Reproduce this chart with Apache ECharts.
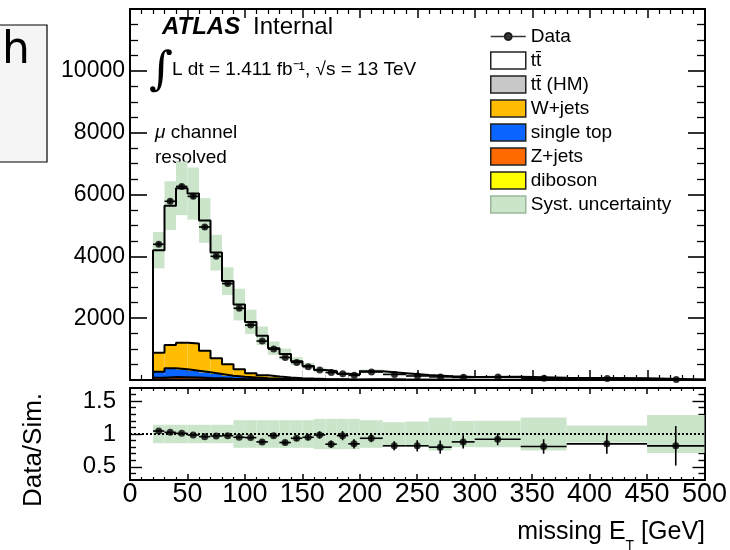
<!DOCTYPE html>
<html>
<head>
<meta charset="utf-8">
<script src="https://cdn.jsdelivr.net/npm/echarts@6/dist/echarts.min.js"></script>
<style>
  html, body { margin: 0; padding: 0; background: #fff; }
  #chart { width: 730px; height: 550px; }
</style>
</head>
<body>
<div id="chart"></div>
<script>
// Missing transverse energy, mu channel, resolved selection.
// Bin edges in GeV (10 GeV bins up to 200, wider bins in the tail).
const binEdges = [20, 30, 40, 50, 60, 70, 80, 90, 100, 110, 120, 130, 140, 150, 160, 170, 180, 190, 200,
                  220, 240, 260, 280, 300, 340, 380, 450, 500];

// Observed events per bin and their statistical errors
const dataCounts = [4390, 5780, 6260, 5940, 4950, 4000, 3120, 2320, 1775, 1260, 1000, 730, 570, 430, 320, 240, 200, 150,
                    260, 180, 130, 100, 85, 100, 60, 45, 15];
const dataErrors = [66, 76, 79, 77, 70, 63, 56, 48, 42, 35, 32, 27, 24, 21, 18, 15, 14, 12,
                    16, 13, 11, 10, 9, 10, 8, 7, 4];

// Simulated backgrounds per bin
const ttbar     = [3320, 4510, 4995, 4850, 4214, 3420, 2694, 2095, 1665, 1280, 920, 760, 550, 410, 290, 257, 183, 157,
                   255, 204, 148, 116, 90, 101, 69, 49, 16];
const ttbarHM   = [0, 0, 0, 0, 0, 0, 0, 0, 0, 0, 0, 0, 0, 0, 0, 0, 0, 0, 0, 0, 0, 0, 0, 0, 0, 0, 0];
const wjets     = [612, 753, 860, 880, 698, 506, 366, 238, 135, 90, 65, 45, 33, 25, 20, 16, 12, 10,
                   13, 8, 6, 5, 4, 4, 3, 2, 1];
const singleTop = [193, 282, 255, 220, 182, 140, 98, 75, 56, 41, 30, 23, 18, 13, 9, 7, 6, 5,
                   7, 5, 4, 2, 2, 2, 1, 1, 1];
const zjets     = [60, 75, 70, 62, 50, 40, 30, 22, 16, 12, 9, 7, 5, 4, 3, 3, 2, 1,
                   2, 1, 1, 1, 0, 1, 0, 1, 0];
const diboson   = [15, 20, 20, 18, 16, 14, 12, 10, 8, 7, 6, 5, 4, 3, 3, 2, 2, 2,
                   3, 2, 1, 1, 1, 1, 1, 0, 0];

// Relative systematic uncertainty on the total simulation
const systRel = [0.14, 0.14, 0.14, 0.14, 0.14, 0.14, 0.14, 0.21, 0.21, 0.21, 0.21, 0.21, 0.21, 0.21, 0.23, 0.23, 0.23, 0.23,
                 0.21, 0.18, 0.19, 0.25, 0.20, 0.20, 0.25, 0.13, 0.29];

// Data / simulation ratio and its errors
const ratioValues = [1.045, 1.025, 1.01, 0.985, 0.96, 0.97, 0.975, 0.95, 0.945, 0.88, 0.975, 0.87, 0.935, 0.95, 0.985, 0.845, 0.975, 0.85,
                     0.935, 0.82, 0.82, 0.80, 0.88, 0.92, 0.81, 0.85, 0.82];
const ratioErrors = [0.016, 0.014, 0.013, 0.013, 0.014, 0.015, 0.017, 0.02, 0.022, 0.025, 0.031, 0.032, 0.038, 0.045, 0.055, 0.055, 0.07, 0.07,
                     0.06, 0.07, 0.085, 0.1, 0.1, 0.09, 0.11, 0.15, 0.3];

// Tick values
const ratioMajorTicks = [0.5, 1, 1.5];
const ratioMinorTicks = [0.4, 0.6, 0.7, 0.8, 0.9, 1.1, 1.2, 1.3, 1.4, 1.6];

const FONT = '"Liberation Sans", Arial, Helvetica, sans-serif';
const nBins = binEdges.length - 1;
const centers = binEdges.slice(0, -1).map((e, i) => (e + binEdges[i + 1]) / 2);

function binRect(params, api) {
  const a = api.coord([api.value(0), api.value(3)]);
  const b = api.coord([api.value(1), api.value(2)]);
  return {
    type: 'rect',
    shape: { x: a[0], y: a[1], width: b[0] - a[0], height: b[1] - a[1] },
    style: { fill: api.visual('color') }
  };
}

function errorBars(params, api) {
  const x0 = api.value(0), x1 = api.value(1), y = api.value(2), e = api.value(3);
  const xc = (x0 + x1) / 2;
  const a = api.coord([x0, y]), b = api.coord([x1, y]);
  const c = api.coord([xc, y - e]), d = api.coord([xc, y + e]);
  const st = { stroke: '#000', lineWidth: 1.6 };
  return {
    type: 'group',
    children: [
      { type: 'line', shape: { x1: a[0], y1: a[1], x2: b[0], y2: b[1] }, style: st },
      { type: 'line', shape: { x1: c[0], y1: c[1], x2: d[0], y2: d[1] }, style: st }
    ]
  };
}

function stepPoints(vals) {
  const pts = [[binEdges[0], 0]];
  vals.forEach((v, i) => { pts.push([binEdges[i], v]); pts.push([binEdges[i + 1], v]); });
  return pts;
}

// Stacked backgrounds, bottom to top
const layers = [
  { name: 'diboson',    values: diboson,   color: '#ffff00' },
  { name: 'Z+jets',     values: zjets,     color: '#ff6a00' },
  { name: 'single top', values: singleTop, color: '#0a64ff' },
  { name: 'W+jets',     values: wjets,     color: '#ffbc00' },
  { name: 'tt\u0304 (HM)', values: ttbarHM, color: '#c8c8c8' },
  { name: 'tt\u0304',   values: ttbar,     color: '#ffffff' }
];

const series = [];
let running = new Array(nBins).fill(0);
const outlines = [];
layers.forEach((layer) => {
  const lower = running.slice();
  const upper = running.map((v, i) => v + layer.values[i]);
  running = upper;
  series.push({
    type: 'custom', name: layer.name, xAxisIndex: 0, yAxisIndex: 0, z: 2, silent: true,
    itemStyle: { color: layer.color },
    renderItem: binRect,
    encode: { x: [0, 1], y: [2, 3] },
    data: lower.map((lo, i) => [binEdges[i], binEdges[i + 1], lo, upper[i]]).filter(d => d[3] > d[2])
  });
  if (layer.values.some(v => v > 0)) outlines.push(upper);
});
const mcTotal = running;

// Systematic band around the total simulation
series.push({
  type: 'custom', name: 'Syst. uncertainty', xAxisIndex: 0, yAxisIndex: 0, z: 3, silent: true,
  itemStyle: { color: '#cbe5cb' },
  renderItem: binRect,
  encode: { x: [0, 1], y: [2, 3] },
  data: mcTotal.map((m, i) => [binEdges[i], binEdges[i + 1], m * (1 - systRel[i]), m * (1 + systRel[i])])
});

// Black outlines of each stacked contribution
outlines.forEach((vals) => {
  series.push({
    type: 'line', xAxisIndex: 0, yAxisIndex: 0, z: 4, silent: true,
    symbol: 'none', animation: false,
    lineStyle: { color: '#000', width: 2 },
    data: stepPoints(vals)
  });
});

// Data in the main panel
series.push({
  type: 'custom', xAxisIndex: 0, yAxisIndex: 0, z: 6, silent: true,
  renderItem: errorBars,
  encode: { x: [0, 1], y: 2 },
  data: dataCounts.map((v, i) => [binEdges[i], binEdges[i + 1], v, dataErrors[i]])
});
series.push({
  type: 'scatter', name: 'Data', xAxisIndex: 0, yAxisIndex: 0, z: 7, silent: true,
  symbol: 'circle', symbolSize: 7,
  itemStyle: { color: '#000' },
  data: dataCounts.map((v, i) => [centers[i], v])
});

// Ratio panel
series.push({
  type: 'custom', xAxisIndex: 2, yAxisIndex: 2, z: 2, silent: true,
  itemStyle: { color: '#cbe5cb' },
  renderItem: binRect,
  encode: { x: [0, 1], y: [2, 3] },
  data: systRel.map((r, i) => [binEdges[i], binEdges[i + 1], 1 - r, 1 + r])
});
series.push({
  type: 'line', xAxisIndex: 2, yAxisIndex: 2, z: 3, silent: true, symbol: 'none',
  lineStyle: { color: '#000', width: 2, type: 'dotted' },
  data: [[0, 1], [500, 1]]
});
series.push({
  type: 'custom', xAxisIndex: 2, yAxisIndex: 2, z: 5, silent: true,
  renderItem: errorBars,
  encode: { x: [0, 1], y: 2 },
  data: ratioValues.map((v, i) => [binEdges[i], binEdges[i + 1], v, ratioErrors[i]])
});
series.push({
  type: 'scatter', name: 'ratio', xAxisIndex: 2, yAxisIndex: 2, z: 6, silent: true,
  symbol: 'circle', symbolSize: 7,
  itemStyle: { color: '#000' },
  data: ratioValues.map((v, i) => [centers[i], v])
});

const axisLine = { show: true, onZero: false, lineStyle: { color: '#000', width: 2 } };
function xAxisDef(grid, pos, showLabels, major, minor) {
  return {
    type: 'value', gridIndex: grid, position: pos, min: 0, max: 500, interval: 50,
    axisLine: axisLine,
    axisTick: { show: true, inside: true, length: major, lineStyle: { color: '#000', width: 1.5 } },
    minorTick: { show: true, splitNumber: 5, length: minor, lineStyle: { color: '#000', width: 1.2 } },
    splitLine: { show: false }, minorSplitLine: { show: false },
    axisLabel: {
      show: showLabels, color: '#000', fontFamily: FONT, fontSize: 27, margin: 1,
      showMinLabel: true, showMaxLabel: true
    }
  };
}
function mainYAxis(pos, showLabels) {
  return {
    type: 'value', gridIndex: 0, position: pos, min: 0, max: 12000, interval: 2000,
    axisLine: axisLine,
    axisTick: { show: true, inside: true, length: 17, lineStyle: { color: '#000', width: 1.6 } },
    minorTick: { show: true, splitNumber: 4, length: 8, lineStyle: { color: '#000', width: 1.3 } },
    splitLine: { show: false }, minorSplitLine: { show: false },
    axisLabel: {
      show: showLabels, color: '#000', fontFamily: FONT, fontSize: 23, margin: 5,
      formatter: v => (v === 0 || v === 12000) ? '' : String(v)
    }
  };
}
function ratioYAxis(pos, ticks, len, showLabels) {
  return {
    type: 'value', gridIndex: 1, position: pos, min: 0.3, max: 1.7,
    axisLine: axisLine,
    axisTick: { show: true, inside: true, length: len, customValues: ticks, lineStyle: { color: '#000', width: 1.4 } },
    splitLine: { show: false },
    axisLabel: {
      show: showLabels, customValues: ticks, color: '#000', fontFamily: FONT, fontSize: 24, margin: 14
    }
  };
}

const legendBox = (fill, border) => ({ color: fill, borderColor: border, borderWidth: 1.5 });

const option = {
  animation: false,
  backgroundColor: '#ffffff',
  grid: [
    { left: 130, right: 25, top: 9, height: 371 },
    { left: 130, right: 25, top: 388, height: 92 }
  ],
  xAxis: [
    xAxisDef(0, 'bottom', false, 10, 5),
    xAxisDef(0, 'top', false, 9, 5),
    xAxisDef(1, 'bottom', true, 6, 3),
    xAxisDef(1, 'top', false, 6, 3)
  ],
  yAxis: [
    mainYAxis('left', true),
    mainYAxis('right', false),
    ratioYAxis('left', ratioMajorTicks, 12, true),
    ratioYAxis('left', ratioMinorTicks, 6, false),
    ratioYAxis('right', ratioMajorTicks, 12, false),
    ratioYAxis('right', ratioMinorTicks, 6, false)
  ],
  legend: {
    orient: 'vertical', left: 485, top: 22,
    itemWidth: 35, itemHeight: 17, itemGap: 5,
    selectedMode: false,
    textStyle: { fontFamily: FONT, fontSize: 19, lineHeight: 19, color: '#000' },
    data: [
      { name: 'Data', icon: 'path://M0,5H13A3.5,3.5,0,1,1,20,5A3.5,3.5,0,1,1,13,5M20,5H33',
        itemStyle: { color: '#000', borderColor: '#000', borderWidth: 1.5 } },
      { name: 'tt\u0304', icon: 'rect', itemStyle: legendBox('#ffffff', '#222') },
      { name: 'tt\u0304 (HM)', icon: 'rect', itemStyle: legendBox('#c8c8c8', '#222') },
      { name: 'W+jets', icon: 'rect', itemStyle: legendBox('#ffbc00', '#222') },
      { name: 'single top', icon: 'rect', itemStyle: legendBox('#0a64ff', '#222') },
      { name: 'Z+jets', icon: 'rect', itemStyle: legendBox('#ff6a00', '#222') },
      { name: 'diboson', icon: 'rect', itemStyle: legendBox('#ffff00', '#222') },
      { name: 'Syst. uncertainty', icon: 'rect', itemStyle: legendBox('#cbe5cb', '#9cb89c') }
    ]
  },
  graphic: [
    { type: 'rect', shape: { x: -2, y: 25, width: 49, height: 137 },
      style: { fill: '#f5f5f5', stroke: '#000', lineWidth: 1.2 } },
    { type: 'text', x: 2, y: 52,
      style: { text: 'h', font: '44px "DejaVu Sans"', fill: '#000', verticalAlign: 'middle' } },
    { type: 'text', x: 162, y: 27,
      style: { text: 'ATLAS', font: 'italic bold 24px ' + FONT, fill: '#000', verticalAlign: 'middle' } },
    { type: 'text', x: 253, y: 27,
      style: { text: 'Internal', font: '24px ' + FONT, fill: '#000', verticalAlign: 'middle' } },
    { type: 'text', x: 161, y: 72,
      style: { text: '\u222B', font: '46px "DejaVu Serif"', fill: '#000', align: 'center', textAlign: 'center', verticalAlign: 'middle' } },
    { type: 'text', x: 172, y: 70,
      style: { text: 'L dt = 1.411 fb\u207B\u00B9, \u221As = 13 TeV', font: '19px ' + FONT, fill: '#000', verticalAlign: 'middle' } },
    { type: 'text', x: 155, y: 133,
      style: { text: '{i|\u03BC} channel', font: '19px ' + FONT, fill: '#000', verticalAlign: 'middle',
               rich: { i: { fontStyle: 'italic', fontSize: 19, fontFamily: FONT } } } },
    { type: 'text', x: 155, y: 158,
      style: { text: 'resolved', font: '19px ' + FONT, fill: '#000', verticalAlign: 'middle' } },
    { type: 'text', x: 34, y: 450, rotation: Math.PI / 2,
      style: { text: 'Data/Sim.', font: '26px ' + FONT, fill: '#000', align: 'center', textAlign: 'center', verticalAlign: 'middle' } },
    { type: 'text', x: 705, y: 532,
      style: {
        text: '{a|missing E}{s|T}{a| [GeV]}', fill: '#000', align: 'right', textAlign: 'right', verticalAlign: 'middle',
        rich: {
          a: { fontSize: 25, fontFamily: FONT, lineHeight: 42 },
          s: { fontSize: 14, fontFamily: FONT, lineHeight: 14, verticalAlign: 'bottom' }
        }
      } }
  ],
  series: series
};

const chart = echarts.init(document.getElementById('chart'), null, { renderer: 'canvas' });
chart.setOption(option);
</script>
</body>
</html>
